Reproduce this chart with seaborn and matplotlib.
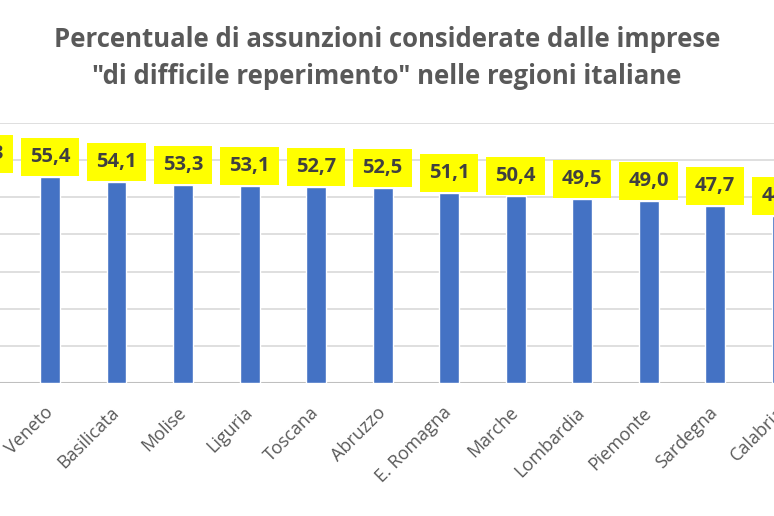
import seaborn as sns
import pandas as pd
import matplotlib.pyplot as plt

regions = ['Umbria', 'Veneto', 'Basilicata', 'Molise', 'Liguria', 'Toscana', 'Abruzzo',
           'E. Romagna', 'Marche', 'Lombardia', 'Piemonte', 'Sardegna', 'Calabria']
values = [56.3, 55.4, 54.1, 53.3, 53.1, 52.7, 52.5, 51.1, 50.4, 49.5, 49.0, 47.7, 44.9]

TITLE = 'Percentuale di assunzioni considerate dalle imprese\n"di difficile reperimento" nelle regioni italiane'
BAR_COLOR = '#4472C4'
TEXT_COLOR = '#595959'


def plot_regions(df):
    sns.set_style('white')
    plt.rcParams['font.family'] = ['Open Sans', 'DejaVu Sans']

    fig = plt.figure(figsize=(7.74, 5.16), dpi=100)
    # the source image is a crop: axes run past the right edge so Calabria keeps its label
    ax = fig.add_axes([0, 0.2578, 1.0356, 0.5039])

    sns.barplot(df, x='Regione', y='Valore', color=BAR_COLOR, width=0.3,
                saturation=1, ax=ax, zorder=3)

    ax.set_xticks(range(len(df)))
    ax.set_xticklabels(df['Regione'], rotation=45, ha='right', va='center',
                       rotation_mode='anchor', fontsize=13, color=TEXT_COLOR)
    ax.set_yticks(range(0, 71, 10))
    ax.set_ylim(0, 70)
    ax.set_xlim(0.248, 12.3)
    ax.yaxis.grid(True, color='#d9d9d9', linewidth=1.2, zorder=0)
    ax.set_axisbelow(True)
    for s in ax.spines.values():
        s.set_visible(False)
    ax.axhline(0, color='#bfbfbf', linewidth=1.5, zorder=2)
    ax.set_xlabel('')
    ax.set_ylabel('')
    ax.tick_params(axis='y', left=False, labelleft=False)
    ax.tick_params(axis='x', bottom=False, pad=16)

    for i, v in enumerate(df['Valore']):
        ax.annotate(f'{v:.1f}'.replace('.', ','), (i, v), xytext=(0, 14.5),
                    textcoords='offset points', ha='center', va='center',
                    fontsize=14.5, fontweight='bold', color='#404040', zorder=5,
                    bbox=dict(boxstyle='square,pad=0.45', fc='#FFFF00', ec='none'),
                    annotation_clip=False)

    fig.text(0.5, 0.888, TITLE, ha='center', va='center', fontsize=18.5,
             fontweight='bold', color=TEXT_COLOR, linespacing=1.5)

    fig.savefig('out.png', dpi=100)


def main():
    df = pd.DataFrame({'Regione': regions, 'Valore': values})
    plot_regions(df)


if __name__ == '__main__':
    main()
